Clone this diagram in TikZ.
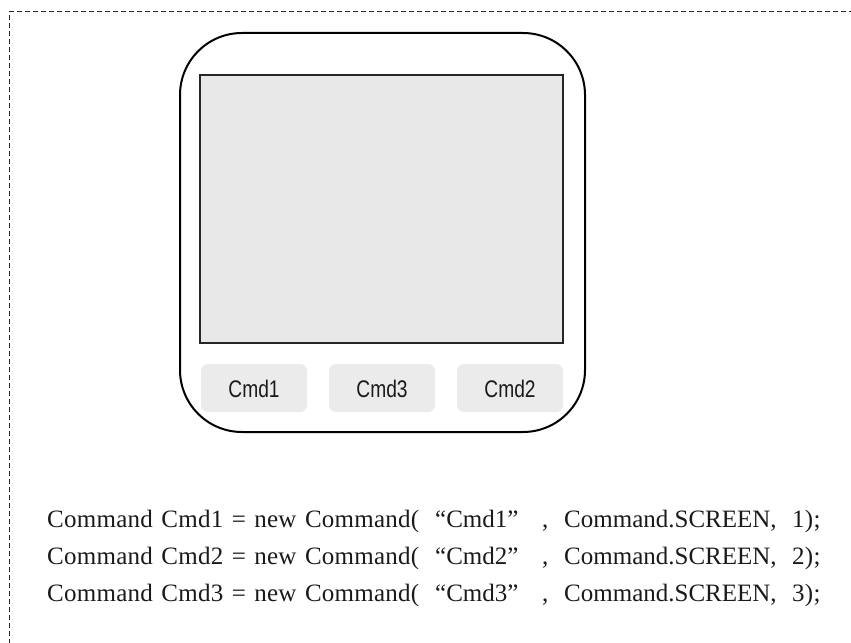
\documentclass[tikz,border=0pt]{standalone}
\usepackage{fontspec}
\setmainfont{Liberation Serif}
\newfontfamily\btnfont[FakeStretch=0.8]{Liberation Sans}
\newfontfamily\codefont{Liberation Serif}
\newfontfamily\codefontloose[LetterSpace=1.0]{Liberation Serif}
\definecolor{screenfill}{HTML}{E8E8E8}
\definecolor{btnfill}{HTML}{EBEBEB}
\definecolor{inkdark}{HTML}{1A1A1A}
\newcommand\widewordgap{\spaceskip=8.5bp\relax}
\begin{document}
\begin{tikzpicture}[x=1bp,y=-1bp,
  frameline/.style={draw=black!85, line width=1bp, dash pattern=on 5bp off 3bp},
  phone/.style={draw=black, line width=2bp, rounded corners=62bp},
  screen/.style={draw=black!85, line width=1.6bp, fill=screenfill},
  softkey/.style={fill=btnfill, rounded corners=7bp, draw=none},
  keylabel/.style={font=\btnfont\fontsize{24bp}{28bp}\selectfont, text=inkdark, inner sep=0pt},
  codeseg/.style={font=\codefont\fontsize{25bp}{30bp}\selectfont, text=inkdark, anchor=base west, inner sep=0pt},
  codeloose/.style={codeseg, font=\codefontloose\fontsize{25bp}{30bp}\selectfont}]
\useasboundingbox (0,0) rectangle (851,643);

% dashed frame around the sketch (open to the right and bottom)
\draw[frameline] (870,12) -- (9,12) -- (9,660);

% handset body and display
\draw[phone] (180,33) rectangle (585,432);
\draw[screen] (200,75) rectangle (563,343);

% soft keys
\fill[softkey] (201,364) rectangle (307,412);
\fill[softkey] (329,364) rectangle (435,412);
\fill[softkey] (457,364) rectangle (563,412);
\node[keylabel] (k1) at (254,389) {Cmd1};
\node[keylabel] (k3) at (382,389) {Cmd3};
\node[keylabel] (k2) at (510,389) {Cmd2};

% command declarations, one line per soft key
\foreach \n/\yy in {1/527, 2/564, 3/601} {
  \node[codeloose] (a\n) at (47,\yy) {\widewordgap Command Cmd\n{} = new Command(};
  \node[codeseg] (b\n) at (435,\yy) {“Cmd\n”};
  \node[codeseg] (c\n) at (542,\yy) {,};
  \node[codeseg] (d\n) at (564,\yy) {Command.SCREEN,};
  \node[codeloose] (e\n) at (792,\yy) {\n);};
}
\end{tikzpicture}
\end{document}
